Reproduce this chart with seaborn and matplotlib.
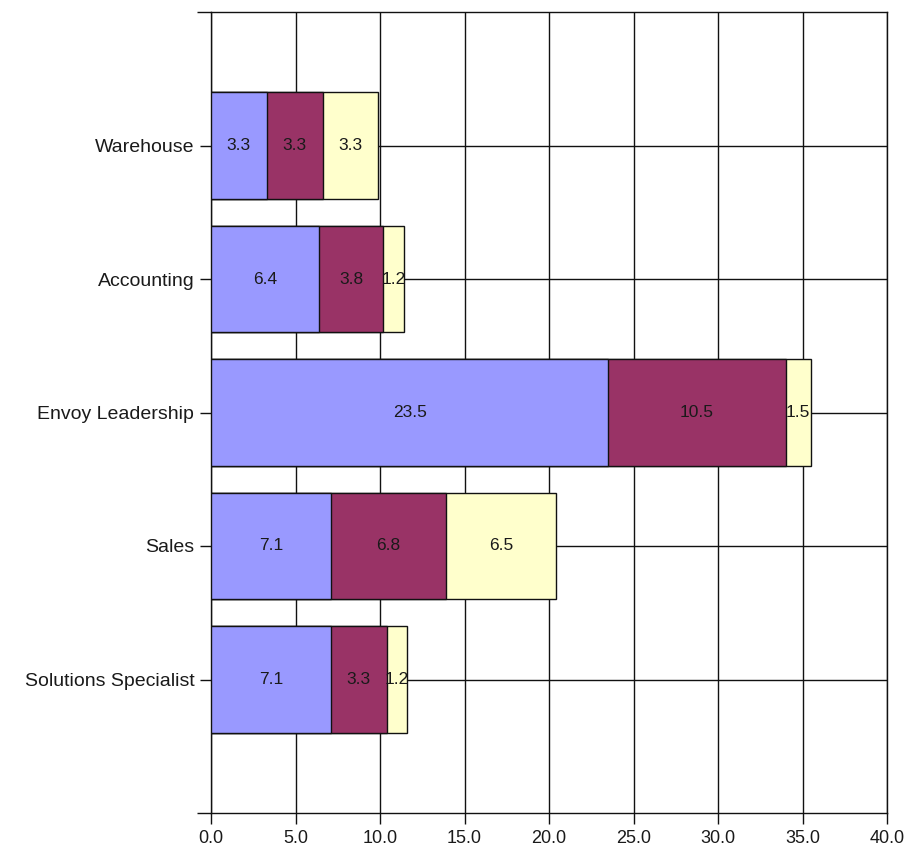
import matplotlib
matplotlib.use("Agg")
import matplotlib.pyplot as plt
import seaborn as sns
import numpy as np
import pandas as pd

categories = ["Warehouse", "Accounting", "Envoy Leadership", "Sales", "Solutions Specialist"]
series_names = ["Series 1", "Series 2", "Series 3"]
series1 = [3.3, 6.4, 23.5, 7.1, 7.1]
series2 = [3.3, 3.8, 10.5, 6.8, 3.3]
series3 = [3.3, 1.2, 1.5, 6.5, 1.2]
colors = ["#9999FF", "#993366", "#FFFFCC"]
x_ticks = [0, 5, 10, 15, 20, 25, 30, 35, 40]

sns.set_theme(style="white")
plt.rcParams['font.family'] = ['Liberation Sans', 'DejaVu Sans']

fig = plt.figure(figsize=(9.23, 8.58), dpi=100)
ax = fig.add_axes([211/923, 1-813/858, (887-211)/923, (813-12)/858])

vals = np.array([series1, series2, series3])
cum = np.cumsum(vals, axis=0)

# draw from largest cumulative to smallest so segments stack
for i in range(2, -1, -1):
    df = pd.DataFrame({"cat": categories, "val": cum[i]})
    sns.barplot(data=df, x="val", y="cat", orient="h", color=colors[i],
                saturation=1, edgecolor="#111111", linewidth=1.0, width=0.8,
                ax=ax, zorder=3)

# labels
for i in range(3):
    for j, c in enumerate(categories):
        left = cum[i][j] - vals[i][j]
        ax.text(left + vals[i][j] / 2, j, f"{vals[i][j]:.1f}", ha="center", va="center",
                fontsize=12.5, color="#1a1a1a", zorder=5)

ax.set_xlim(0, 40)
ax.set_ylim(5, -1)
ax.set_xticks(x_ticks)
ax.set_xticklabels([f"{v:.1f}" for v in x_ticks], fontsize=13)
ax.set_yticks(range(len(categories)))
ax.set_yticklabels(categories, fontsize=14)
ax.set_yticks([-1, 5], minor=True)
ax.set_xlabel("")
ax.set_ylabel("")

ax.grid(True, which="major", color="#111111", linewidth=1.0, zorder=0)
ax.set_axisbelow(True)
for s in ax.spines.values():
    s.set_visible(True)
    s.set_color("#111111")
    s.set_linewidth(1.0)
ax.tick_params(axis="both", which="major", length=8, width=1.0, color="#111111",
               labelcolor="#1a1a1a", pad=4)
ax.tick_params(axis="y", which="minor", left=True, length=10, width=1.0, color="#111111")
ax.tick_params(axis="x", bottom=True)
ax.tick_params(axis="y", left=True)

fig.savefig("out.png", dpi=100)
